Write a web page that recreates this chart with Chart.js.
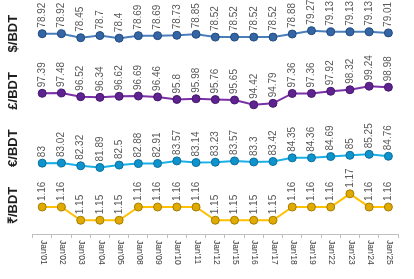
<!DOCTYPE html>
<html><head><meta charset="utf-8">
<script src="https://cdn.jsdelivr.net/npm/chart.js@4.4.1/dist/chart.umd.min.js"></script>
<style>html,body{margin:0;padding:0;background:#fff}#wrap{width:414px;height:279px}</style>
</head><body><div id="wrap"><canvas id="c" width="414" height="279"></canvas></div>
<script>
const categories = ["Jan'01","Jan'02","Jan'03","Jan'04","Jan'05","Jan'08","Jan'09","Jan'10","Jan'11","Jan'12","Jan'15","Jan'16","Jan'17","Jan'18","Jan'19","Jan'22","Jan'23","Jan'24","Jan'25"];
const usd = [78.92,78.92,78.45,78.7,78.4,78.69,78.69,78.73,78.85,78.52,78.52,78.52,78.52,78.88,79.27,79.13,79.13,79.13,79.01];
const gbp = [97.39,97.48,96.52,96.34,96.62,96.69,96.46,95.8,95.98,95.76,95.65,94.42,94.79,97.36,97.36,97.92,98.32,99.24,98.98];
const eur = [83,83.02,82.32,81.89,82.5,82.88,82.91,83.57,83.14,83.23,83.57,83.3,83.42,84.35,84.36,84.69,85,85.25,84.76];
const inr = [1.16,1.16,1.15,1.15,1.15,1.16,1.16,1.16,1.16,1.15,1.15,1.15,1.15,1.16,1.16,1.16,1.17,1.16,1.16];
const axisTitles = ["$/BDT","£/BDT","€/BDT","₹/BDT"];

const labelPlugin = {
  id: 'labels',
  afterDatasetsDraw(chart) {
    const ctx = chart.ctx;
    ctx.save();
    ctx.font = '10px "Liberation Sans", Arial, sans-serif';
    ctx.fillStyle = '#595959';
    ctx.textAlign = 'left';
    ctx.textBaseline = 'middle';
    chart.data.datasets.forEach((ds, i) => {
      const meta = chart.getDatasetMeta(i);
      meta.data.forEach((pt, j) => {
        ctx.save();
        ctx.translate(pt.x, pt.y - 6);
        ctx.rotate(-Math.PI / 2);
        ctx.fillText(String(ds.data[j]), 0, 0);
        ctx.restore();
      });
    });
    const xs = chart.scales.x;
    ctx.font = '8.5px "Liberation Sans", Arial, sans-serif';
    ctx.fillStyle = '#404040';
    categories.forEach((c, j) => {
      const x = xs.getPixelForValue(j);
      ctx.save();
      ctx.translate(x + 1, xs.top + 6);
      ctx.rotate(Math.PI / 2);
      ctx.fillText(c, 0, 0);
      ctx.restore();
    });
    ctx.restore();
  }
};

function mkDs(data, axis, line, fill, border) {
  return {data, yAxisID: axis, borderColor: line, backgroundColor: fill,
    pointBackgroundColor: fill, pointBorderColor: border, pointBorderWidth: 1,
    pointRadius: 4, borderWidth: 2, tension: 0, clip: false};
}
function mkAxis(title, min, max) {
  return {type: 'linear', position: 'left', stack: 'rates', stackWeight: 1, min, max,
    ticks: {display: false}, grid: {display: false}, border: {display: false},
    title: {display: true, text: title, color: '#1f1f1f',
      font: {size: 13, weight: 'bold', family: '"Liberation Sans", Arial, sans-serif'},
      padding: {top: 6, bottom: 3}}};
}

new Chart(document.getElementById('c'), {
  type: 'line',
  data: {labels: categories, datasets: [
    mkDs(usd, 'yU', '#4a7ebb', '#3465a4', '#234a7e'),
    mkDs(gbp, 'yG', '#7b30a8', '#5e2390', '#45186c'),
    mkDs(eur, 'yE', '#1ab0e6', '#0f93cc', '#0a6f9c'),
    mkDs(inr, 'yI', '#ffc000', '#e0aa00', '#a57d00')
  ]},
  options: {
    responsive: false, animation: false,
    layout: {padding: {left: 0, right: 16, top: 0, bottom: 41}},
    plugins: {legend: {display: false}, tooltip: {enabled: false}},
    scales: {
      x: {type: 'category', offset: true,
        ticks: {display: false},
        grid: {display: true, offset: true, drawOnChartArea: false, drawTicks: true, tickLength: 4, color: '#bfbfbf'},
        border: {display: true, color: '#bfbfbf'}},
      yI: mkAxis(axisTitles[3], 1.1396, 1.1829),
      yE: mkAxis(axisTitles[2], 79.52, 94.15),
      yG: mkAxis(axisTitles[1], 90.6, 105.45),
      yU: mkAxis(axisTitles[0], 75.6, 82.25)
    }
  },
  plugins: [labelPlugin]
});
</script></body></html>
